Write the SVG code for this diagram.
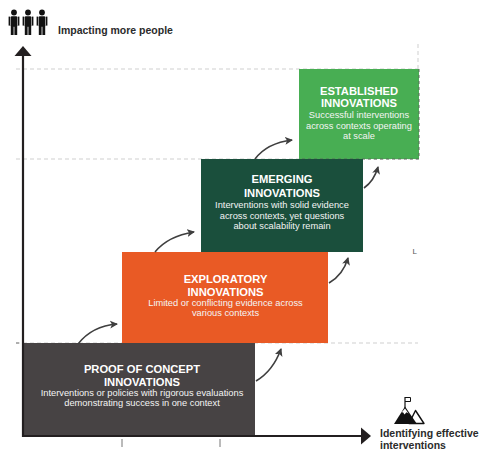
<svg xmlns="http://www.w3.org/2000/svg" width="482" height="452" viewBox="0 0 482 452">
<style>
.grid{stroke:#cfcfcf;stroke-width:1;stroke-dasharray:4,3;fill:none}
.axis{stroke:#231f20;stroke-width:2.2;fill:none}
.conn{stroke:#3f3f3f;stroke-width:1.6;fill:none;marker-end:url(#ah)}
.t{font-family:"Liberation Sans",Arial,sans-serif;font-weight:bold;font-size:11.2px;fill:#fff;text-anchor:middle}
.s{font-family:"Liberation Sans",Arial,sans-serif;font-size:9.3px;fill:#f4f4f4;text-anchor:middle}
.lab{font-family:"Liberation Sans",Arial,sans-serif;font-weight:bold;font-size:10.5px;fill:#2b2b2b}
.tick{stroke:#777;stroke-width:1}
</style>
<defs>
<marker id="ah" markerUnits="userSpaceOnUse" markerWidth="10" markerHeight="10" refX="7" refY="4" orient="auto">
<path d="M0,0 L8,4 L0,8 L2,4 Z" fill="#3f3f3f"/>
</marker>
</defs>
<rect width="482" height="452" fill="#fff"/>

<g id="grid">
<line class="grid" x1="16" y1="69" x2="418" y2="69"/>
<line class="grid" x1="16" y1="159" x2="418" y2="159"/>
<line class="grid" x1="16" y1="343" x2="418" y2="343"/>
<line class="grid" x1="418" y1="44" x2="418" y2="159"/>
<line class="tick" x1="122" y1="439" x2="122" y2="447"/>
<line class="tick" x1="220" y1="439" x2="220" y2="447"/>
<line class="tick" x1="16" y1="343" x2="19" y2="343"/>
<text x="412.5" y="253.5" font-family="Liberation Sans, Arial, sans-serif" font-size="8" fill="#555">L</text>
</g>

<g id="established">
<rect x="299" y="69" width="120" height="90" fill="#48ae53"/>
<path d="M419,69 V159 H299" fill="none" stroke="#5a6b5a" stroke-width="1" stroke-dasharray="3,3"/>
<text class="t" x="359" y="95">ESTABLISHED</text>
<text class="t" x="359" y="107.3">INNOVATIONS</text>
<text class="s" x="359" y="118.3">Successful interventions</text>
<text class="s" x="359" y="129">across contexts operating</text>
<text class="s" x="359" y="139">at scale</text>
</g>

<g id="emerging">
<rect x="201" y="159" width="162" height="93" fill="#1a4f3c"/>
<text class="t" x="282" y="183.3">EMERGING</text>
<text class="t" x="282" y="196.7">INNOVATIONS</text>
<text class="s" x="282" y="208">Interventions with solid evidence</text>
<text class="s" x="282" y="219">across contexts, yet questions</text>
<text class="s" x="282" y="229">about scalability remain</text>
</g>

<g id="exploratory">
<rect x="122" y="252" width="206" height="91" fill="#e95a25"/>
<text class="t" x="225.5" y="283.3">EXPLORATORY</text>
<text class="t" x="225.5" y="296">INNOVATIONS</text>
<text class="s" x="225.5" y="306">Limited or conflicting evidence across</text>
<text class="s" x="225.5" y="316">various contexts</text>
</g>

<g id="proof">
<rect x="23" y="343" width="232" height="93" fill="#474344"/>
<text class="t" x="142" y="373.3">PROOF OF CONCEPT</text>
<text class="t" x="142" y="385.7">INNOVATIONS</text>
<text class="s" x="142" y="396">Interventions or policies with rigorous evaluations</text>
<text class="s" x="142" y="405.5">demonstrating success in one context</text>
</g>

<g id="connectors">
<path class="conn" d="M78,344 Q92,326 117,324"/>
<path class="conn" d="M155,252 Q168,236 194,232"/>
<path class="conn" d="M255,159 Q267,143 292,140"/>
<path class="conn" d="M256,381 Q273,371 281,349"/>
<path class="conn" d="M329,283 Q343,275 348,258"/>
<path class="conn" d="M364,188 Q374,181 378,167"/>
</g>

<g id="axes">
<line class="axis" x1="23" y1="54" x2="23" y2="437"/>
<path d="M23,46 L31.5,56 L14.5,56 Z" fill="#231f20"/>
<line class="axis" x1="22" y1="436" x2="363" y2="436"/>
<path d="M371,436 L361,427.5 L361,444.5 Z" fill="#231f20"/>
</g>

<g id="people-icon" fill="#111">
<g transform="translate(14,0)">
<circle cx="0" cy="12.5" r="2.9"/>
<rect x="-3.2" y="16.3" width="6.4" height="10.5" rx="1"/>
<rect x="-5.4" y="16.6" width="1.7" height="9"/>
<rect x="3.7" y="16.6" width="1.7" height="9"/>
<rect x="-3.2" y="25" width="2.8" height="10"/>
<rect x="0.4" y="25" width="2.8" height="10"/>
</g>
<g transform="translate(28,0)">
<circle cx="0" cy="12.5" r="2.9"/>
<rect x="-3.2" y="16.3" width="6.4" height="10.5" rx="1"/>
<rect x="-5.4" y="16.6" width="1.7" height="9"/>
<rect x="3.7" y="16.6" width="1.7" height="9"/>
<rect x="-3.2" y="25" width="2.8" height="10"/>
<rect x="0.4" y="25" width="2.8" height="10"/>
</g>
<g transform="translate(42,0)">
<circle cx="0" cy="12.5" r="2.9"/>
<rect x="-3.2" y="16.3" width="6.4" height="10.5" rx="1"/>
<rect x="-5.4" y="16.6" width="1.7" height="9"/>
<rect x="3.7" y="16.6" width="1.7" height="9"/>
<rect x="-3.2" y="25" width="2.8" height="10"/>
<rect x="0.4" y="25" width="2.8" height="10"/>
</g>
</g>
<text class="lab" x="58" y="34">Impacting more people</text>

<g id="mountain-icon">
<line x1="405" y1="397" x2="405" y2="408" stroke="#111" stroke-width="1.2"/>
<path d="M405,397.5 H410.5 V401.5 H405" fill="none" stroke="#111" stroke-width="1"/>
<path d="M409,423.5 L415.5,410.5 L424,423.5 Z" fill="#fff" stroke="#111" stroke-width="1.4" stroke-linejoin="round"/>
<path d="M394,424 L405,406.5 L417,424 Z" fill="#111"/>
<path d="M401.5,412.5 L405,408.5 L408.6,413.5 L406.5,412.2 L404.5,414.5 L403,412.2 Z" fill="#fff"/>
</g>
<text class="lab" x="380" y="437">Identifying effective</text>
<text class="lab" x="380" y="449">interventions</text>
</svg>
